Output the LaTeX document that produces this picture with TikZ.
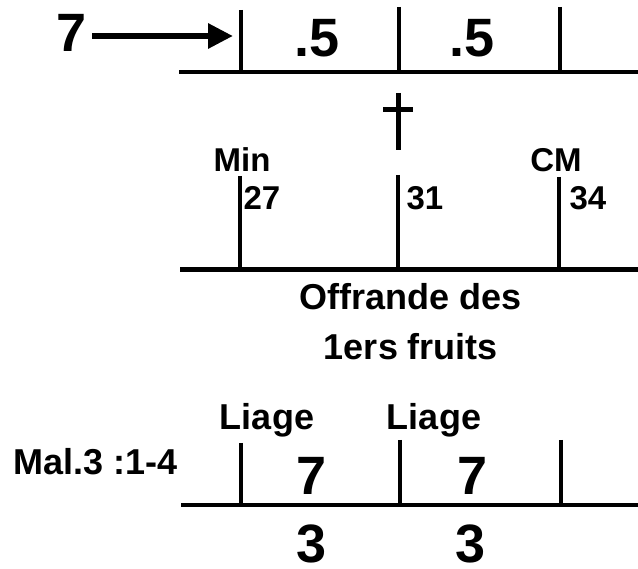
\documentclass[tikz,border=0pt]{standalone}
\usepackage{fontspec}
\setmainfont{Liberation Sans}
\usetikzlibrary{arrows.meta}
\begin{document}
\begin{tikzpicture}[x=1pt, y=-1pt, >=stealth]
  \tikzstyle{trait}=[line width=4.5pt]
  \tikzstyle{gros}=[inner sep=0pt, anchor=base, font=\fontsize{54}{60}\selectfont\bfseries]
  \tikzstyle{etiq}=[inner sep=0pt, anchor=base, font=\fontsize{36}{40}\selectfont\bfseries]
  \tikzstyle{petit}=[inner sep=0pt, anchor=base, font=\fontsize{33}{38}\selectfont\bfseries]
  \tikzstyle{fleche}=[line width=6pt, -{Triangle[length=25pt, width=24pt]}]

  \useasboundingbox (0,0) rectangle (638,569);

  % Ligne du haut
  \draw[trait] (179,72) -- (638,72);
  \foreach \x/\t in {241/10, 399/7, 560/7}
    \draw[trait] (\x,\t) -- (\x,72);
  \node[gros] (sept) at (72,52) {7};
  \node[gros] (demiA) at (317,57) {.5};
  \node[gros] (demiB) at (472,57) {.5};
  \coordinate (pointe) at (233,36);
  \draw[fleche, shorten <=5pt] (sept.east |- pointe) -- (pointe);

  % Croix
  \draw[line width=5pt] (398,93) -- (398,150);
  \draw[line width=5pt] (383,109.5) -- (413,109.5);

  % Ligne du milieu
  \draw[trait] (180,269.5) -- (638,269.5);
  \foreach \x/\t in {240/176, 398/175, 559/177}
    \draw[trait] (\x,\t) -- (\x,269.5);
  \node[petit] (min) at (242,172) {Min};
  \node[petit] (cm) at (556,172) {CM};
  \node[petit] (a27) at (262,210) {27};
  \node[petit] (a31) at (425,210) {31};
  \node[petit] (a34) at (588,210) {34};
  \node[etiq] (offrande) at (411,310) {Offrande des};
  \node[etiq] (fruits) at (411,360) {1ers fruits};

  % Ligne du bas
  \draw[trait] (181,505) -- (638,505);
  \foreach \x/\t in {241/443, 400/440, 561/440}
    \draw[trait] (\x,\t) -- (\x,505);
  \node[etiq] (liageA) at (267,430) {Liage};
  \node[etiq] (liageB) at (434,430) {Liage};
  \node[etiq] (mal) at (96,475) {Mal.3 :1-4};
  \node[gros] (septA) at (312,495) {7};
  \node[gros] (septB) at (473,495) {7};
  \node[gros] (troisA) at (312,562) {3};
  \node[gros] (troisB) at (471,562) {3};
\end{tikzpicture}
\end{document}
